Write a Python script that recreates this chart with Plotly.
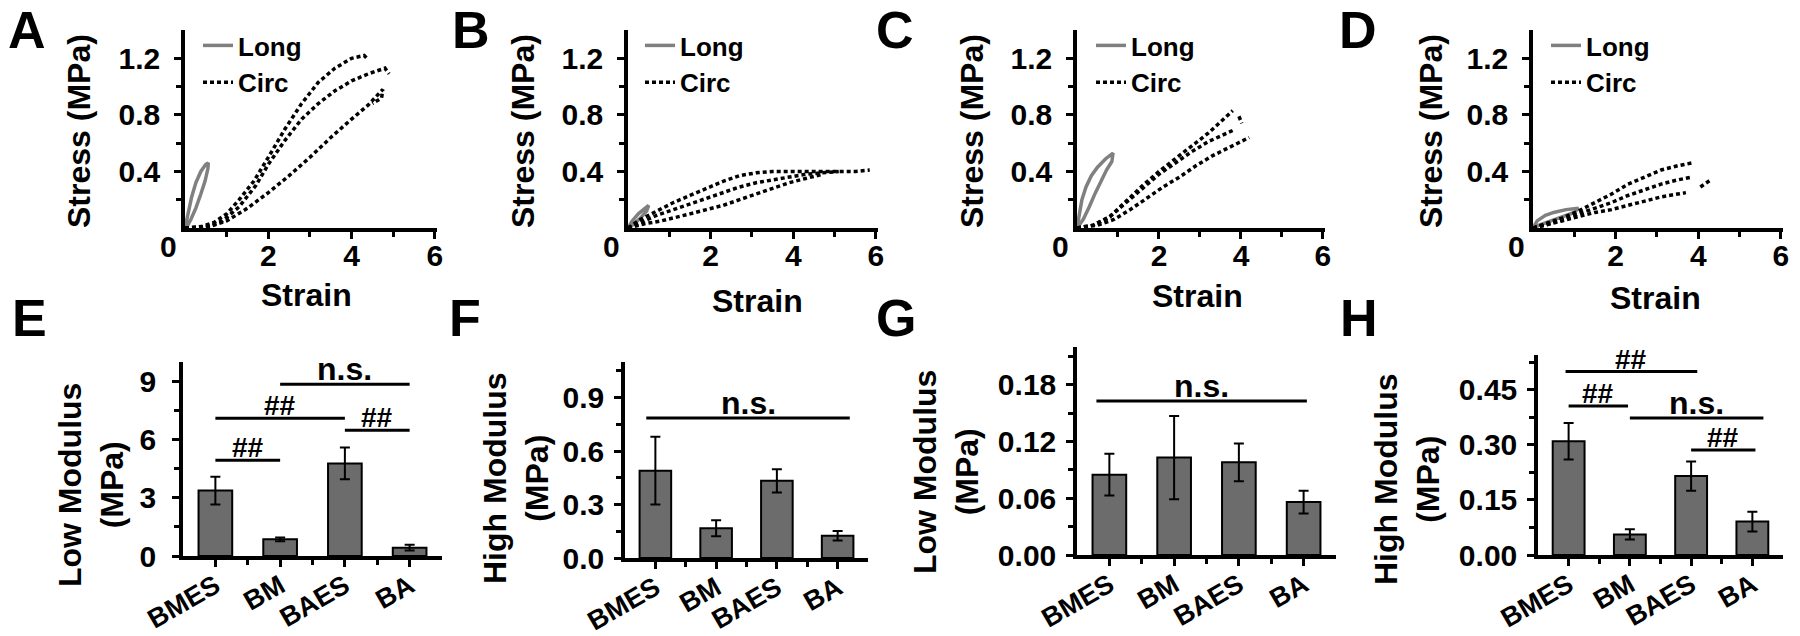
import plotly.graph_objects as go

W, H = 1800, 636
FONT = "Liberation Sans, Arial, sans-serif"

# =============================================================================
# stress-strain curves (A-D): strain, stress (MPa)
# =============================================================================
a_long_x = [0, 0.08, 0.16, 0.26, 0.38, 0.5, 0.56, 0.55, 0.48, 0.38, 0.26, 0.14, 0.05, 0]
a_long_y = [0, 0.12, 0.22, 0.32, 0.4, 0.45, 0.46, 0.42, 0.33, 0.24, 0.14, 0.06, 0.01, 0]
a_circ1_x = [0, 0.4, 0.7, 1.0, 1.3, 1.65, 2.0, 2.4, 2.8, 3.2, 3.6, 4.0, 4.3, 4.4]
a_circ1_y = [0, 0.01, 0.04, 0.1, 0.2, 0.33, 0.5, 0.7, 0.88, 1.03, 1.13, 1.2, 1.22, 1.19]
a_circ2_x = [0, 0.5, 0.9, 1.3, 1.7, 2.0, 2.4, 2.8, 3.2, 3.6, 4.0, 4.4, 4.8, 4.9]
a_circ2_y = [0, 0.01, 0.05, 0.15, 0.3, 0.45, 0.62, 0.77, 0.88, 0.97, 1.04, 1.09, 1.13, 1.09]
a_circ3_x = [0, 0.5, 1.0, 1.5, 2.0, 2.5, 3.0, 3.5, 4.0, 4.4, 4.75, 4.72, 4.5]
a_circ3_y = [0, 0.0, 0.05, 0.14, 0.25, 0.37, 0.5, 0.64, 0.77, 0.87, 0.98, 0.92, 0.88]

b_long_x = [0, 0.1, 0.25, 0.4, 0.5, 0.45, 0.3, 0.15, 0]
b_long_y = [0, 0.05, 0.1, 0.14, 0.16, 0.12, 0.07, 0.03, 0]
b_circ1_x = [0, 0.3, 0.7, 1.1, 1.5, 1.9, 2.3, 2.7, 3.1, 3.5, 4.0, 4.5, 5.0, 5.5, 5.85]
b_circ1_y = [0, 0.06, 0.12, 0.18, 0.23, 0.28, 0.33, 0.37, 0.39, 0.40, 0.40, 0.40, 0.40, 0.40, 0.41]
b_circ2_x = [0, 0.3, 0.7, 1.1, 1.5, 1.9, 2.3, 2.7, 3.1, 3.5, 3.9, 4.3, 4.7, 5.1]
b_circ2_y = [0, 0.04, 0.09, 0.13, 0.17, 0.21, 0.25, 0.29, 0.32, 0.34, 0.36, 0.38, 0.39, 0.40]
b_circ3_x = [0, 0.4, 0.8, 1.1, 1.5, 1.9, 2.3, 2.7, 3.1, 3.5, 3.9, 4.3, 4.7]
b_circ3_y = [0, 0.03, 0.05, 0.07, 0.1, 0.13, 0.16, 0.2, 0.24, 0.28, 0.32, 0.35, 0.38]

c_long_x = [0, 0.05, 0.12, 0.22, 0.35, 0.5, 0.7, 0.88, 0.85, 0.72, 0.58, 0.45, 0.3, 0.15, 0]
c_long_y = [0, 0.1, 0.2, 0.29, 0.37, 0.43, 0.49, 0.53, 0.47, 0.41, 0.33, 0.25, 0.15, 0.06, 0]
c_circ1_x = [0, 0.4, 0.8, 1.2, 1.6, 2.0, 2.4, 2.8, 3.2, 3.5, 3.8, None, 3.95, 4.02]
c_circ1_y = [0, 0.02, 0.08, 0.19, 0.3, 0.4, 0.49, 0.58, 0.67, 0.75, 0.83, None, 0.79, 0.74]
c_circ2_x = [0, 0.4, 0.8, 1.2, 1.6, 2.0, 2.4, 2.8, 3.2, 3.5, 3.8]
c_circ2_y = [0, 0.02, 0.08, 0.18, 0.28, 0.38, 0.46, 0.54, 0.61, 0.65, 0.69]
c_circ3_x = [0, 0.5, 0.9, 1.3, 1.7, 2.1, 2.5, 2.9, 3.3, 3.7, 4.0, 4.2]
c_circ3_y = [0, 0.02, 0.06, 0.13, 0.21, 0.29, 0.36, 0.44, 0.51, 0.57, 0.61, 0.64]

d_long_x = [0, 0.1, 0.3, 0.5, 0.8, 1.1, 1.0, 0.7, 0.4, 0.15, 0]
d_long_y = [0, 0.05, 0.09, 0.11, 0.13, 0.14, 0.11, 0.08, 0.05, 0.02, 0]
d_circ1_x = [0, 0.3, 0.7, 1.1, 1.5, 1.9, 2.3, 2.7, 3.1, 3.5, 3.85]
d_circ1_y = [0, 0.03, 0.07, 0.12, 0.18, 0.24, 0.31, 0.36, 0.41, 0.44, 0.46]
d_circ2_x = [0, 0.3, 0.7, 1.1, 1.5, 1.9, 2.3, 2.7, 3.1, 3.5, 3.85, None, 4.05, 4.3]
d_circ2_y = [0, 0.02, 0.06, 0.1, 0.14, 0.18, 0.23, 0.27, 0.31, 0.34, 0.36, None, 0.29, 0.34]
d_circ3_x = [0, 0.3, 0.7, 1.1, 1.5, 1.9, 2.3, 2.7, 3.1, 3.5, 3.7]
d_circ3_y = [0, 0.02, 0.05, 0.08, 0.11, 0.13, 0.16, 0.19, 0.22, 0.24, 0.25]

# =============================================================================
# moduli bar charts (E-H): mean and error
# =============================================================================
groups = ['BMES', 'BM', 'BAES', 'BA']
e_mean = [3.37, 0.86, 4.77, 0.43]
e_err = [0.72, 0.10, 0.82, 0.15]
f_mean = [0.49, 0.167, 0.433, 0.125]
f_err = [0.19, 0.045, 0.065, 0.027]
g_mean = [0.085, 0.103, 0.098, 0.056]
g_err = [0.022, 0.044, 0.020, 0.012]
h_mean = [0.31, 0.056, 0.215, 0.091]
h_err = [0.05, 0.014, 0.04, 0.027]

# significance brackets: (from group, to group, height, label)
e_sig = [(0, 1, 4.94, '##'), (0, 2, 7.1, '##'), (2, 3, 6.48, '##'), (1, 3, 8.85, 'n.s.')]
f_sig = [(-0.15, 3.2, 0.786, 'n.s.')]
g_sig = [(-0.2, 3.05, 0.163, 'n.s.')]
h_sig = [(-0.05, 2.1, 0.50, '##'), (0, 0.97, 0.406, '##'), (1, 3.18, 0.373, 'n.s.'), (2, 3.05, 0.286, '##')]

fig = go.Figure()

def fx(p):
    return p / W

def fy(p):
    return 1 - p / H

def bold(size):
    return dict(size=size, family=FONT, color='black', weight='bold')

# -------- top row: stress-strain ---------
top_panels = [
    (a_long_x, a_long_y, [(a_circ1_x, a_circ1_y), (a_circ2_x, a_circ2_y), (a_circ3_x, a_circ3_y)]),
    (b_long_x, b_long_y, [(b_circ1_x, b_circ1_y), (b_circ2_x, b_circ2_y), (b_circ3_x, b_circ3_y)]),
    (c_long_x, c_long_y, [(c_circ1_x, c_circ1_y), (c_circ2_x, c_circ2_y), (c_circ3_x, c_circ3_y)]),
    (d_long_x, d_long_y, [(d_circ1_x, d_circ1_y), (d_circ2_x, d_circ2_y), (d_circ3_x, d_circ3_y)]),
]
top_xdom = [(185, 437), (628, 878), (1077, 1325), (1533, 1783)]
top_ydom = (30, 228)
legend_x = [198, 640, 1091, 1546]
strain_title = [(306, 295), (757, 301), (1197, 296), (1655, 298)]
stress_title = [79, 523, 972, 1431]

for i, (lx, ly, circs) in enumerate(top_panels):
    n = i + 1
    xa = 'x' if n == 1 else f'x{n}'
    ya = 'y' if n == 1 else f'y{n}'
    lg = 'legend' if n == 1 else f'legend{n}'
    fig.add_trace(go.Scatter(x=lx, y=ly, mode='lines', name='Long',
                             line=dict(color='#808080', width=3.5),
                             xaxis=xa, yaxis=ya, legend=lg))
    for k, (cx, cy) in enumerate(circs):
        fig.add_trace(go.Scatter(x=cx, y=cy, mode='lines', name='Circ',
                                 line=dict(color='black', width=3.5, dash='4px,3px'),
                                 legendgroup=f'circ{n}', showlegend=(k == 0),
                                 xaxis=xa, yaxis=ya, legend=lg))

# -------- bottom row: bar charts ---------
bot_panels = [(e_mean, e_err, e_sig), (f_mean, f_err, f_sig),
              (g_mean, g_err, g_sig), (h_mean, h_err, h_sig)]
bot_xdom = [(183, 442), (625, 868), (1077, 1336), (1538, 1783)]
bot_ydom = [(362, 556), (362, 558), (347, 555), (355, 555)]
bot_range = [10, 1.1, 0.22, 0.545]
bot_ticks = [[0, 3, 6, 9], [0, 0.3, 0.6, 0.9], [0, 0.06, 0.12, 0.18], [0, 0.15, 0.30, 0.45]]
bot_fmt = ['d', '.1f', '.2f', '.2f']
bot_titles = ['Low Modulus<br>(MPa)', 'High Modulus<br>(MPa)', 'Low Modulus<br>(MPa)', 'High Modulus<br>(MPa)']
bot_title_pos = [(91, 485), (516, 478), (946, 472), (1407, 479)]
xpos = list(range(len(groups)))

shapes = []
annotations = []
for i, (mean, err, sig) in enumerate(bot_panels):
    n = i + 5
    fig.add_trace(go.Bar(x=xpos, y=mean, width=0.52,
                         marker=dict(color='#6c6c6c', line=dict(color='black', width=2)),
                         error_y=dict(type='data', array=err, color='black', thickness=2, width=5),
                         showlegend=False, xaxis=f'x{n}', yaxis=f'y{n}'))
    for g0, g1, yv, lab in sig:
        shapes.append(dict(type='line', xref=f'x{n}', yref=f'y{n}', x0=g0, x1=g1, y0=yv, y1=yv,
                           line=dict(color='black', width=3)))
        annotations.append(dict(xref=f'x{n}', yref=f'y{n}', x=(g0 + g1) / 2, y=yv, text=lab,
                                showarrow=False, xanchor='center', yanchor='bottom', yshift=-5,
                                font=bold(32 if lab == 'n.s.' else 28)))

layout = dict(width=W, height=H, margin=dict(l=0, r=0, t=0, b=0, pad=0),
              paper_bgcolor='white', plot_bgcolor='white',
              font=dict(family=FONT, size=30, color='black', weight='bold'),
              bargap=0.48)

axis_common = dict(showline=True, linecolor='black', linewidth=3.5, showgrid=False,
                   zeroline=False, ticks='outside', tickwidth=3, ticklen=7, tickcolor='black',
                   automargin=False, tickfont=bold(30))

for i in range(4):
    n = i + 1
    sfx = '' if n == 1 else str(n)
    layout[f'xaxis{sfx}'] = dict(axis_common, domain=[fx(top_xdom[i][0]), fx(top_xdom[i][1])],
                                 anchor=f'y{sfx}', range=[0, 6.05], tickvals=[2, 4, 6],
                                 ticklabelstandoff=-9,
                                 minor=dict(tickvals=[1, 3, 5], ticks='outside', ticklen=5,
                                            tickwidth=3, tickcolor='black'))
    layout[f'yaxis{sfx}'] = dict(axis_common, domain=[fy(top_ydom[1]), fy(top_ydom[0])],
                                 anchor=f'x{sfx}', range=[0, 1.4], tickvals=[0.4, 0.8, 1.2],
                                 ticklabelstandoff=8,
                                 minor=dict(tickvals=[0.2, 0.6, 1.0], ticks='outside', ticklen=5,
                                            tickwidth=3, tickcolor='black'))
    layout[f'legend{sfx}'] = dict(x=fx(legend_x[i]), y=fy(22), xanchor='left', yanchor='top',
                                  bgcolor='rgba(0,0,0,0)', itemwidth=30, tracegroupgap=0,
                                  font=bold(26))
    annotations.append(dict(xref=f'x{sfx}', yref=f'y{sfx}', x=0, y=0, text='0', showarrow=False,
                            xanchor='right', yanchor='top', xshift=-6, yshift=0,
                            font=bold(30)))
    annotations.append(dict(xref='paper', yref='paper', x=fx(strain_title[i][0]),
                            y=fy(strain_title[i][1]), text='Strain', showarrow=False,
                            xanchor='center', yanchor='middle', font=bold(32)))
    annotations.append(dict(xref='paper', yref='paper', x=fx(stress_title[i]), y=fy(131),
                            text='Stress (MPa)', textangle=-90, showarrow=False,
                            xanchor='center', yanchor='middle', font=bold(32)))

for i in range(4):
    n = i + 5
    step = bot_ticks[i][1] / 2
    layout[f'xaxis{n}'] = dict(axis_common, domain=[fx(bot_xdom[i][0]), fx(bot_xdom[i][1])],
                               anchor=f'y{n}', range=[-0.5, 3.5], tickvals=xpos, ticktext=groups,
                               tickangle=-30, tickfont=bold(27), ticklabelstandoff=-7,
                               minor=dict(tickvals=[0.5, 1.5, 2.5], ticks='outside', ticklen=5,
                                          tickwidth=3, tickcolor='black'))
    layout[f'yaxis{n}'] = dict(axis_common, domain=[fy(bot_ydom[i][1]), fy(bot_ydom[i][0])],
                               anchor=f'x{n}', range=[0, bot_range[i]], tickvals=bot_ticks[i],
                               tickformat=bot_fmt[i], ticklabelstandoff=4 if i else 10,
                               minor=dict(tick0=step, dtick=2 * step, ticks='outside', ticklen=5,
                                          tickwidth=3, tickcolor='black'))
    annotations.append(dict(xref='paper', yref='paper', x=fx(bot_title_pos[i][0]),
                            y=fy(bot_title_pos[i][1]), text=bot_titles[i], textangle=-90,
                            showarrow=False, xanchor='center', yanchor='middle',
                            font=bold(32)))

# panel letters
letters = ['A', 'B', 'C', 'D', 'E', 'F', 'G', 'H']
letter_x = [27, 471, 895, 1358, 29, 465, 896, 1359]
for k, (lab, px_) in enumerate(zip(letters, letter_x)):
    if k < 4:
        pos = dict(y=1, yanchor='top', yshift=1)
    else:
        pos = dict(y=fy(318), yanchor='middle')
    annotations.append(dict(xref='paper', yref='paper', x=fx(px_), text=lab,
                            showarrow=False, xanchor='center', font=bold(52), **pos))

layout['shapes'] = shapes
layout['annotations'] = annotations
fig.update_layout(layout)

fig.write_html("out.html", config={'displayModeBar': False},
               post_script="document.body.style.margin='0px';")
